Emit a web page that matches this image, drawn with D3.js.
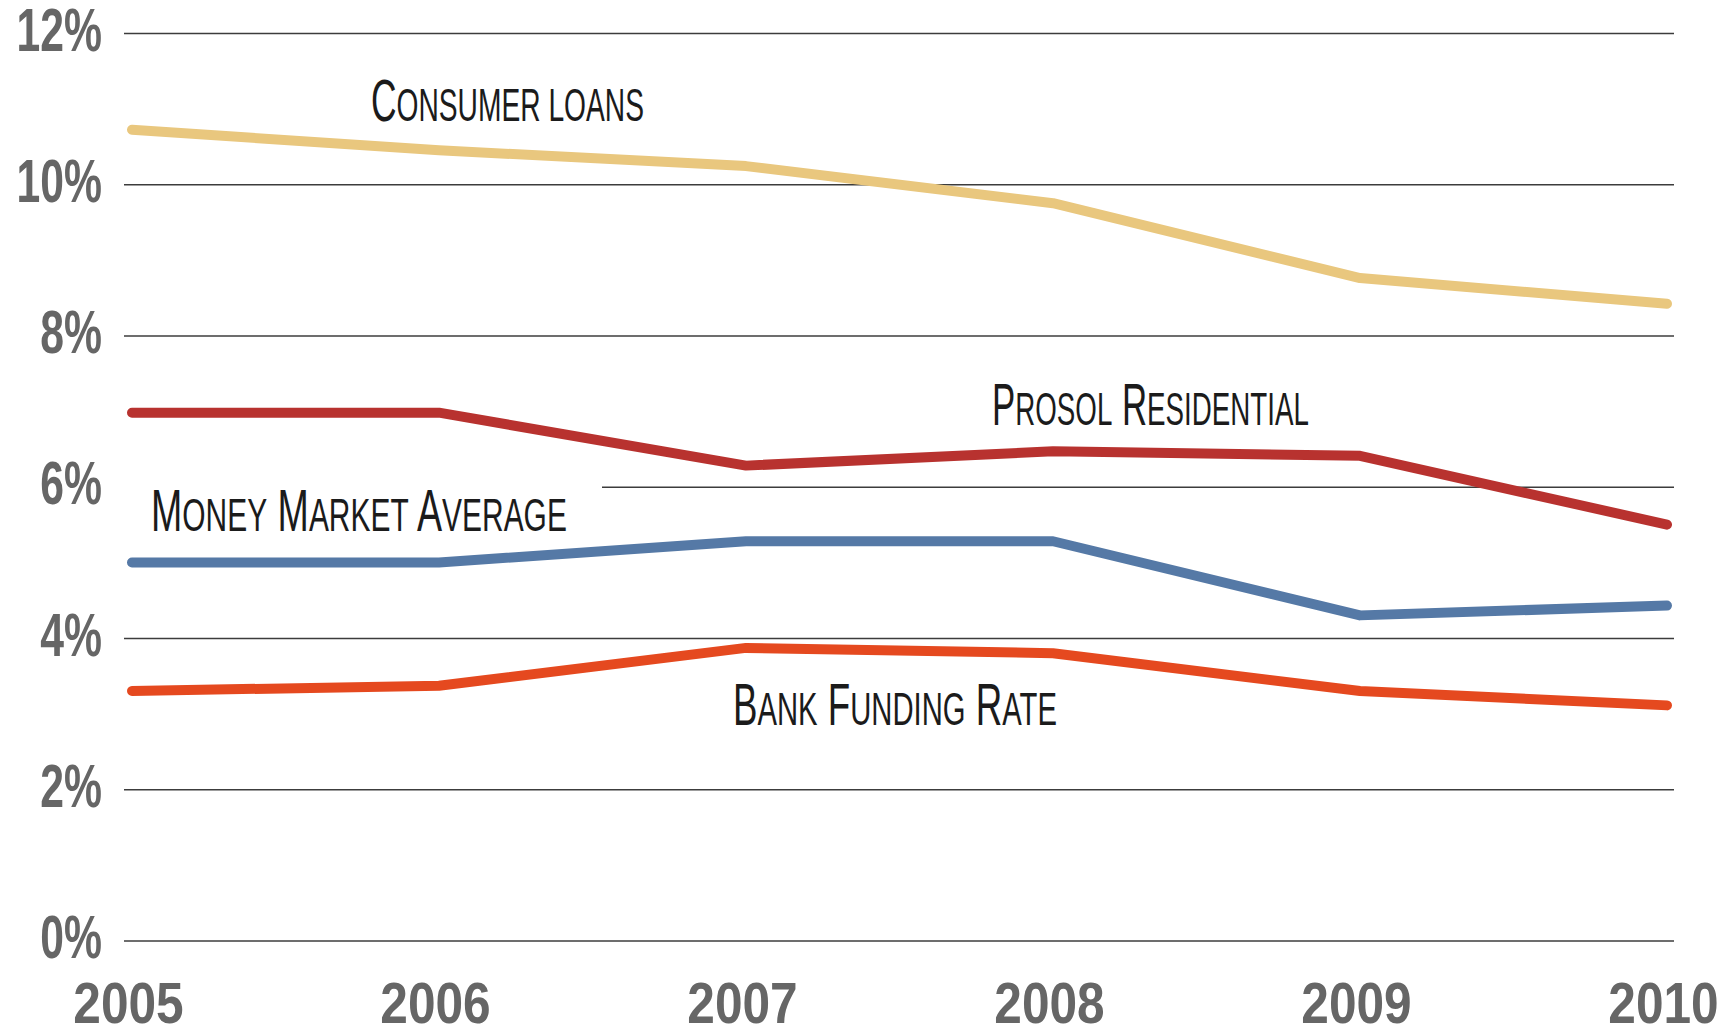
<!DOCTYPE html>
<html>
<head>
<meta charset="utf-8">
<script src="https://cdn.jsdelivr.net/npm/d3@7"></script>
<style>
  html, body { margin: 0; padding: 0; background: #fff; }
  svg { display: block; }
</style>
</head>
<body>
<svg id="chart" width="1725" height="1027"></svg>
<script>
// Interest rates by year (%)
const years = [2005, 2006, 2007, 2008, 2009, 2010];
const consumerLoans     = [10.72, 10.45, 10.24, 9.75, 8.76, 8.42];
const prosolResidential = [6.98, 6.98, 6.28, 6.47, 6.41, 5.50];
const moneyMarket       = [5.00, 5.00, 5.28, 5.28, 4.30, 4.43];
const bankFunding       = [3.30, 3.37, 3.87, 3.80, 3.30, 3.11];
const rateTicks = [0, 2, 4, 6, 8, 10, 12];
const seriesNames = ["Consumer loans", "Prosol Residential", "Money Market Average", "Bank Funding Rate"];

const series = [
  { name: seriesNames[0], values: consumerLoans,     color: "#E9C77E" },
  { name: seriesNames[1], values: prosolResidential, color: "#B8322F" },
  { name: seriesNames[2], values: moneyMarket,       color: "#5579A6" },
  { name: seriesNames[3], values: bankFunding,       color: "#E5491F" }
];

// Label placement: left edge, baseline, overall width
const labelLayout = {
  "Consumer loans":       { x: 371, y: 121, w: 273 },
  "Prosol Residential":   { x: 992, y: 425, w: 317 },
  "Money Market Average": { x: 151, y: 531, w: 416 },
  "Bank Funding Rate":    { x: 733, y: 725, w: 324 }
};

const svg = d3.select("#chart");
const gridLeft = 124, gridRight = 1674;

const x = d3.scaleLinear().domain([2005, 2010]).range([132, 1667]);
const y = d3.scaleLinear().domain([0, 12]).range([940.6, 33]);

// Horizontal gridlines with percentage labels
const yLabelScale = 0.7;
const yAxis = svg.append("g")
  .attr("transform", `translate(${gridLeft},0)`)
  .call(d3.axisLeft(y)
    .tickValues(rateTicks)
    .tickSize(-(gridRight - gridLeft))
    .tickPadding(22)
    .tickFormat(d => d + "%"));
yAxis.select(".domain").remove();
yAxis.selectAll(".tick line")
  .attr("stroke", "#3c3c3c")
  .attr("stroke-width", 1.5)
  .attr("x1", d => d === 6 ? 478 : 0);
yAxis.selectAll(".tick text")
  .attr("font-family", "'Liberation Sans', Arial, sans-serif")
  .attr("font-weight", "bold")
  .attr("font-size", 61)
  .attr("fill", "#666")
  .attr("dy", null)
  .attr("y", 17)
  .attr("x", -22 / yLabelScale)
  .attr("transform", `scale(${yLabelScale},1)`);

// Year labels along the bottom
const xLabelScale = 0.87;
const xAxis = svg.append("g")
  .attr("transform", "translate(-4,1023)")
  .call(d3.axisBottom(x)
    .tickValues(years)
    .tickSize(0)
    .tickPadding(0)
    .tickFormat(d3.format("d")));
xAxis.select(".domain").remove();
xAxis.selectAll(".tick text")
  .attr("font-family", "'Liberation Sans', Arial, sans-serif")
  .attr("font-weight", "bold")
  .attr("font-size", 57)
  .attr("fill", "#666")
  .attr("dy", null)
  .attr("y", 0)
  .attr("transform", `scale(${xLabelScale},1)`);

// Series lines
const line = d3.line()
  .x((d, i) => x(years[i]))
  .y(d => y(d));

svg.append("g").selectAll("path")
  .data(series)
  .join("path")
  .attr("d", d => line(d.values))
  .attr("fill", "none")
  .attr("stroke", d => d.color)
  .attr("stroke-width", 10)
  .attr("stroke-linecap", "round")
  .attr("stroke-linejoin", "round");

// Series labels set in small caps
const bigSize = 59, smallSize = 47;
const labels = svg.append("g")
  .attr("font-family", "'Liberation Sans', Arial, sans-serif")
  .attr("fill", "#1b1b1b");

series.forEach(s => {
  const pos = labelLayout[s.name];
  const t = labels.append("text");
  const words = s.name.split(" ");
  words.forEach((w, wi) => {
    const first = w[0], rest = w.slice(1);
    const isCap = first === first.toUpperCase();
    t.append("tspan")
      .attr("font-size", isCap ? bigSize : smallSize)
      .text((wi > 0 ? " " : "") + first.toUpperCase());
    t.append("tspan")
      .attr("font-size", smallSize)
      .text(rest.toUpperCase());
  });
  const natural = t.node().getComputedTextLength();
  const sx = pos.w / natural;
  t.attr("transform", `translate(${pos.x},${pos.y}) scale(${sx},1)`);
});
</script>
</body>
</html>
